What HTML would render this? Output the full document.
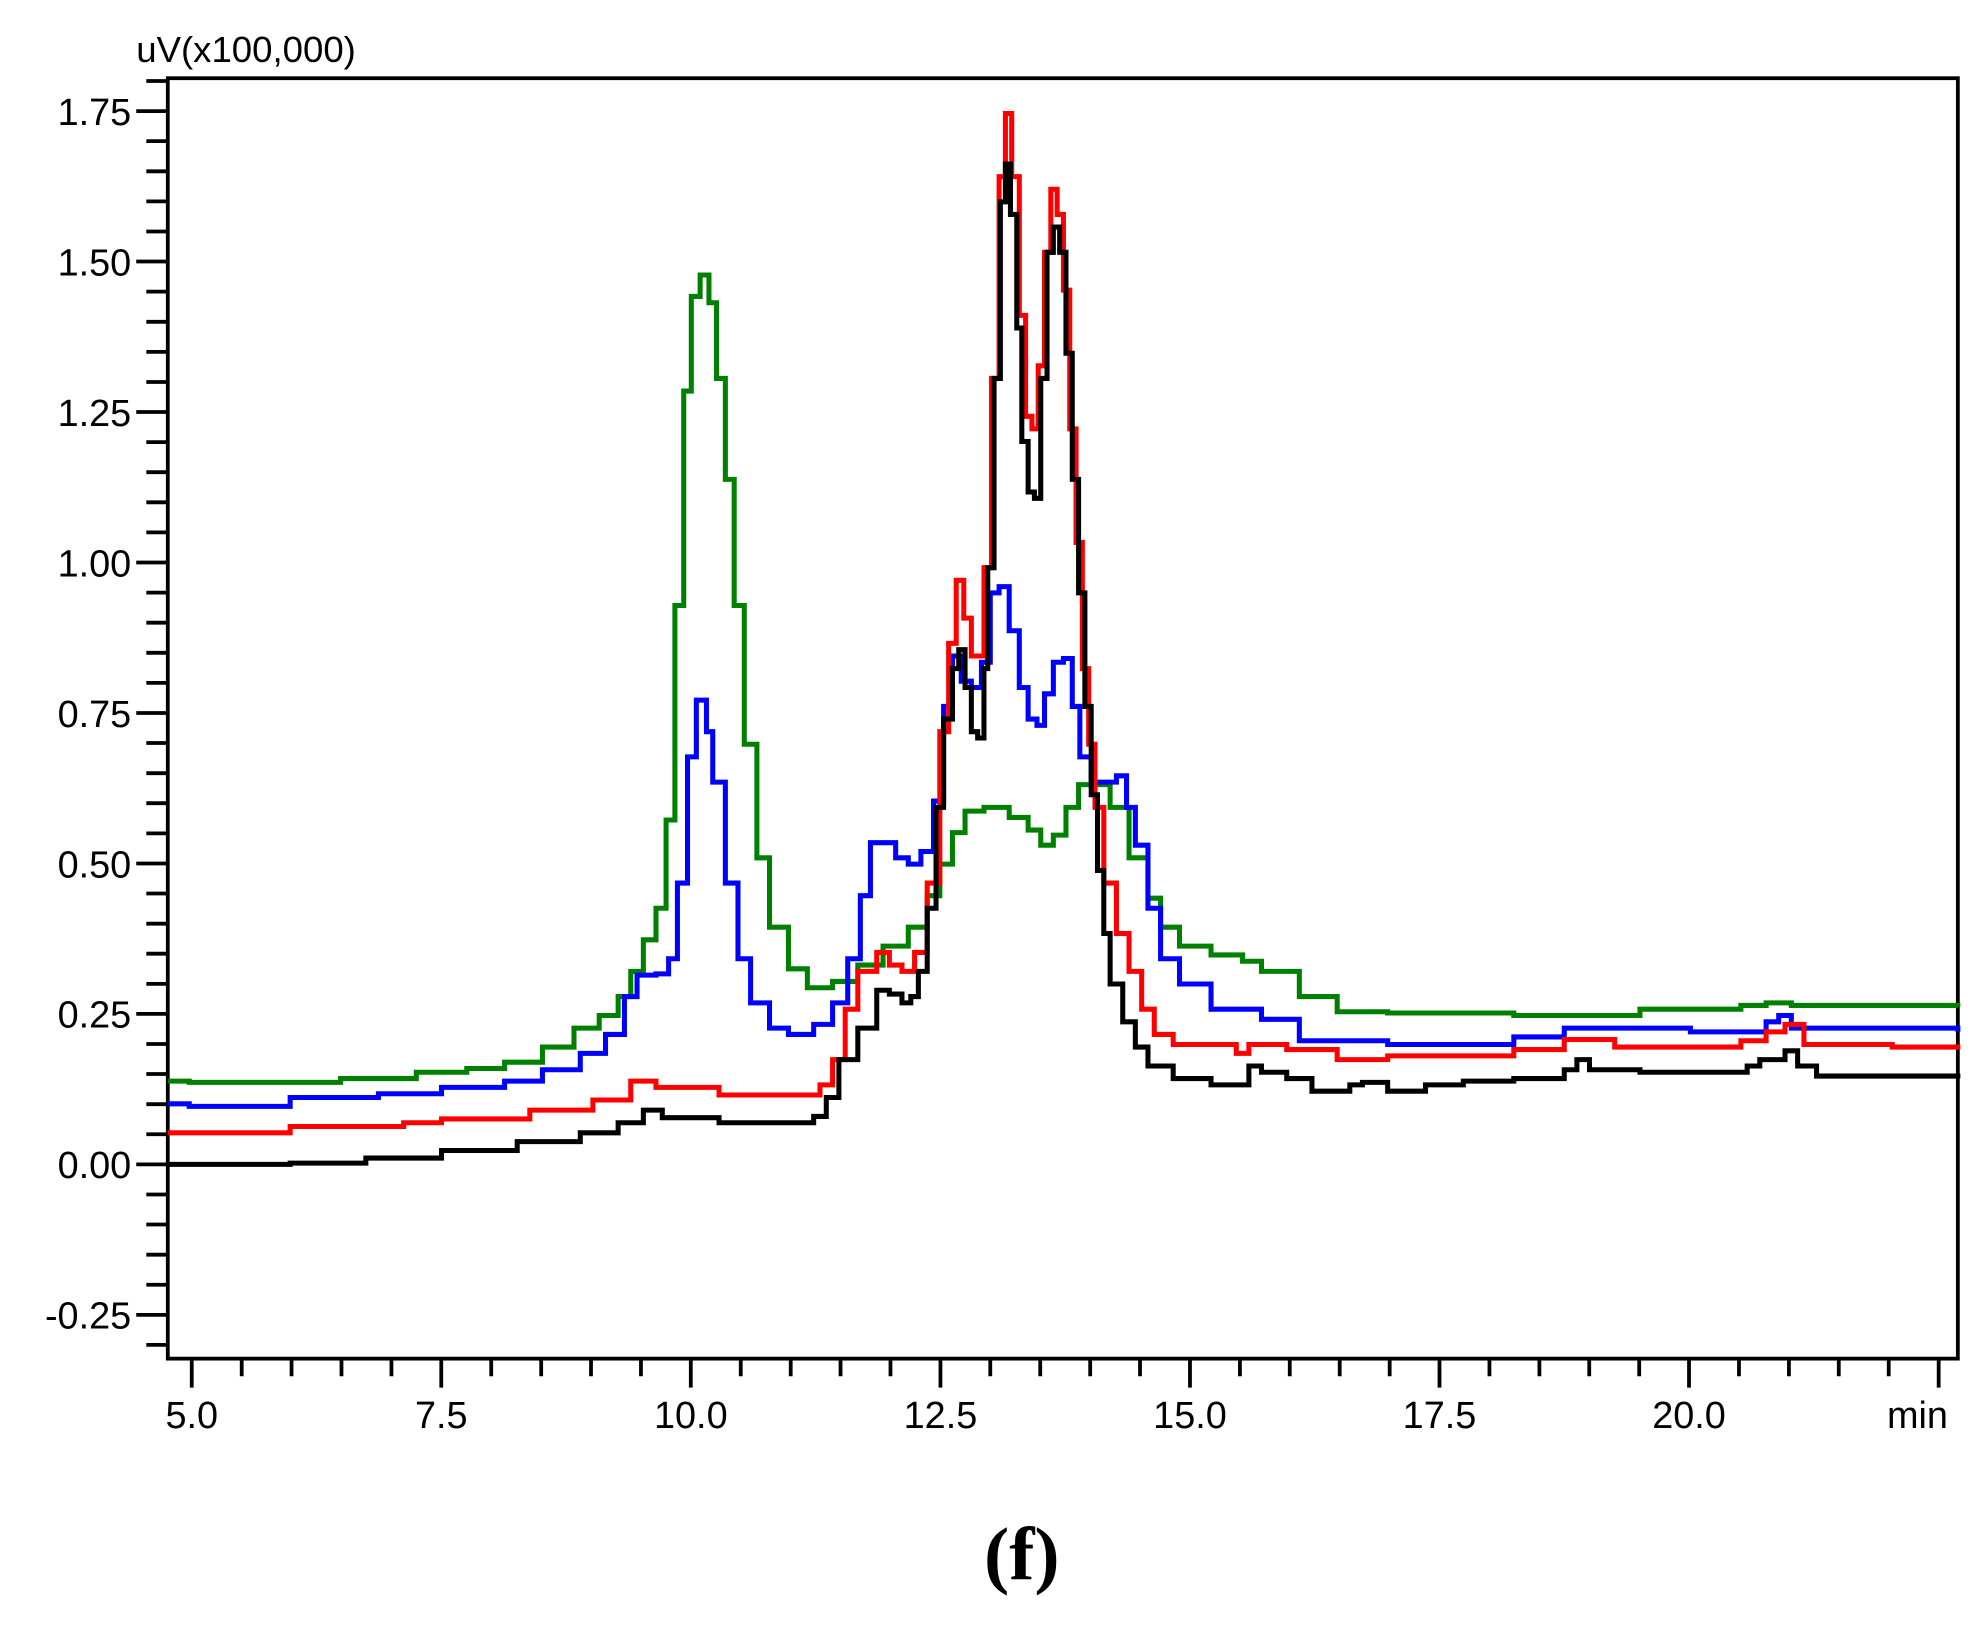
<!DOCTYPE html>
<html><head><meta charset="utf-8"><style>
html,body{margin:0;padding:0;background:#fff;width:1978px;height:1639px;overflow:hidden}
svg{display:block}
text{font-family:"Liberation Sans",sans-serif;fill:#000}
</style></head><body>
<svg id="s" width="1978" height="1639" viewBox="0 0 1978 1639" xmlns="http://www.w3.org/2000/svg">
<g id="g" transform="scale(1.2615)">
<rect x="133" y="62" width="1419" height="1015" fill="none" stroke="#000" stroke-width="3"/>
<text x="108" y="49" font-size="29">uV(x100,000)</text>
<text x="1520" y="1132" font-size="30" text-anchor="middle">min</text>
<text x="810" y="1252" font-size="60" font-weight="bold" text-anchor="middle" style="font-family:'Liberation Serif',serif">(f)</text>
</g>
</svg>
<script>
var g=document.getElementById('g'),NS='http://www.w3.org/2000/svg';
function el(n,a,t){var e=document.createElementNS(NS,n);for(var k in a)e.setAttribute(k,a[k]);if(t)e.textContent=t;g.appendChild(e);return e;}
var d='';
for(var i=-6;i<=36;i++){var v=i*0.05,y=923-v*477.1;if(y<63||y>1076)continue;var maj=(i%5==0);d+='M'+(maj?108:116)+' '+y.toFixed(1)+'H133';
 if(maj)el('text',{x:104,y:(y+11).toFixed(1),'font-size':30,'text-anchor':'end'},v.toFixed(2));}
for(var i=0;i<=35;i++){var m=5+i*0.5,x=152+(m-5)*79.13;var maj=(i%5==0);d+='M'+x.toFixed(1)+' 1077V'+(maj?1100:1091);
 if(maj&&m<22)el('text',{x:x.toFixed(1),y:1132,'font-size':30,'text-anchor':'middle'},m.toFixed(1));}
el('path',{d:d,stroke:'#000','stroke-width':3,fill:'none'});
var S={
green:[133,857,150,858,270,855,330,850,370,847,400,842,430,830,455,815,475,805,490,790,500,770,510,745,520,720,528,650,535,480,542,310,548,235,555,218,562,240,568,300,575,380,582,480,590,590,600,680,610,735,625,768,640,783,660,778,680,765,700,750,720,735,735,710,745,685,755,660,765,643,780,640,800,648,815,658,825,670,835,662,845,640,855,622,865,622,880,640,895,680,910,712,920,735,935,750,960,757,985,762,1000,770,1030,790,1060,802,1100,803,1200,805,1300,800,1380,797,1400,795,1420,797,1552,798],
blue:[133,875,150,877,190,877,230,870,300,867,350,862,400,857,430,848,460,835,480,820,495,790,505,773,520,772,530,760,537,700,545,600,552,555,560,580,565,620,575,700,585,760,595,795,610,815,625,820,645,812,660,795,672,760,682,710,690,668,700,668,710,680,720,685,730,675,740,635,748,560,755,520,762,540,770,545,778,525,785,470,792,465,800,500,808,545,815,570,822,575,828,550,835,525,843,522,850,560,856,600,865,620,875,620,885,615,893,640,900,670,910,720,920,760,935,780,960,800,1000,808,1030,825,1100,828,1200,822,1240,815,1340,818,1400,810,1410,805,1420,815,1552,818],
red:[133,898,230,893,320,890,350,887,420,880,470,872,500,857,520,862,560,862,570,868,640,868,650,860,660,840,670,800,680,770,695,755,705,765,715,770,725,755,735,700,745,580,752,510,758,460,764,490,770,520,775,520,780,450,786,300,792,140,797,90,802,140,808,250,813,330,818,340,823,290,828,200,833,150,838,170,843,230,848,340,853,430,858,530,863,590,868,640,875,700,885,740,895,770,905,800,915,820,930,828,980,835,990,828,1020,832,1060,840,1100,837,1200,832,1240,824,1280,830,1380,825,1400,818,1415,812,1430,828,1500,830,1552,832],
black:[133,923,230,922,290,918,350,912,410,905,460,898,490,890,510,880,525,886,550,886,570,890,630,890,645,885,655,870,665,840,680,815,695,785,705,788,715,795,722,790,728,770,735,720,742,640,748,570,755,530,760,515,765,545,770,580,775,585,780,530,783,450,788,300,793,160,797,130,801,170,806,260,810,350,815,390,820,395,825,300,830,200,835,180,840,200,845,280,850,380,855,470,860,560,865,630,870,690,875,740,880,780,890,810,900,830,910,845,930,855,960,860,985,860,990,845,1000,850,1020,855,1040,865,1070,860,1080,858,1100,865,1130,860,1160,857,1200,855,1240,848,1250,840,1260,848,1300,850,1370,850,1385,845,1395,840,1415,833,1425,845,1440,853,1552,855]};
var C={green:'#008000',blue:'#0000ff',red:'#ff0000',black:'#000000'};
for(var k in S){var a=S[k],p='M'+a[0]+' '+a[1];for(var j=2;j<a.length;j+=2){p+='H'+a[j]+'V'+a[j+1];}
 el('path',{d:p,stroke:C[k],'stroke-width':4,fill:'none'});}
</script>
</body></html>
